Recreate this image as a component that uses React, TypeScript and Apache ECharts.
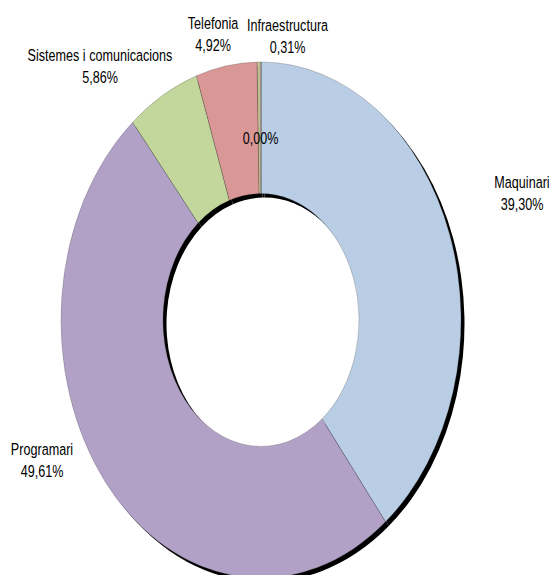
import React, { useEffect, useRef } from "react";
import * as echarts from "echarts";

// Data (percent shares)
const categories = [
  "Maquinari",
  "Programari",
  "Sistemes i comunicacions",
  "Telefonia",
  "Infraestructura",
  "",
];
const shares = [39.3, 49.61, 5.86, 4.92, 0.31, 0.0];
const colors = ["#B9CDE5", "#B2A1C7", "#C3D69B", "#D99795", "#C4BD97", "#8EB4E3"];

// Layout (label anchor positions in unscaled chart px)
const labelPos: [number, number][] = [
  [522, 150.2],
  [42, 357.1],
  [100, 51.8],
  [213, 26.4],
  [287.5, 28.5],
  [260.5, 107],
];

const SY = 1.29; // vertical stretch of the whole picture
const W = 550;
const H = Math.round(575 / SY);
const CX = 261;
const CY = 320 / SY;

export default function App() {
  const ref = useRef<HTMLDivElement>(null);
  useEffect(() => {
    if (!ref.current) return;
    const chart = echarts.init(ref.current, undefined, { renderer: "svg" });
    const data = categories.map((name, i) => ({
      name,
      value: shares[i],
      itemStyle: { color: colors[i] },
    }));
    chart.setOption({
      animation: false,
      backgroundColor: "#ffffff",
      series: [
        {
          type: "pie",
          silent: true,
          radius: [98, 200],
          center: [CX + 3.5, CY + 3],
          startAngle: 90,
          clockwise: true,
          label: { show: false },
          labelLine: { show: false },
          itemStyle: { color: "#000000", borderWidth: 0 },
          data: categories.map((name, i) => ({ name, value: shares[i] })),
          z: 1,
        },
        {
          type: "pie",
          radius: [98, 200],
          center: [CX, CY],
          startAngle: 90,
          clockwise: true,
          avoidLabelOverlap: false,
          itemStyle: { borderColor: "rgba(60,60,60,0.55)", borderWidth: 0.4 },
          label: {
            show: true,
            position: "outside",
            fontFamily: "'Liberation Sans', Arial, sans-serif",
            fontSize: 12.6,
            lineHeight: 17,
            color: "#000000",
            align: "center",
            formatter: (p: any) => {
              const pct = Number(p.value).toFixed(2).replace(".", ",") + "%";
              return p.name ? p.name + "\n" + pct : pct;
            },
          },
          labelLine: { show: false },
          labelLayout: (params: any) => {
            const pos = labelPos[params.dataIndex];
            return {
              x: pos[0],
              y: pos[1],
              align: "center",
              verticalAlign: "middle",
            };
          },
          data,
          z: 2,
        },
      ],
    });
    return () => chart.dispose();
  }, []);
  return (
    <div
      style={{
        position: "absolute",
        left: 0,
        top: 0,
        width: W,
        height: 575,
        overflow: "hidden",
        background: "#ffffff",
      }}
    >
      <div
        ref={ref}
        style={{
          width: W,
          height: H,
          transform: `scaleY(${SY})`,
          transformOrigin: "0 0",
        }}
      />
    </div>
  );
}
